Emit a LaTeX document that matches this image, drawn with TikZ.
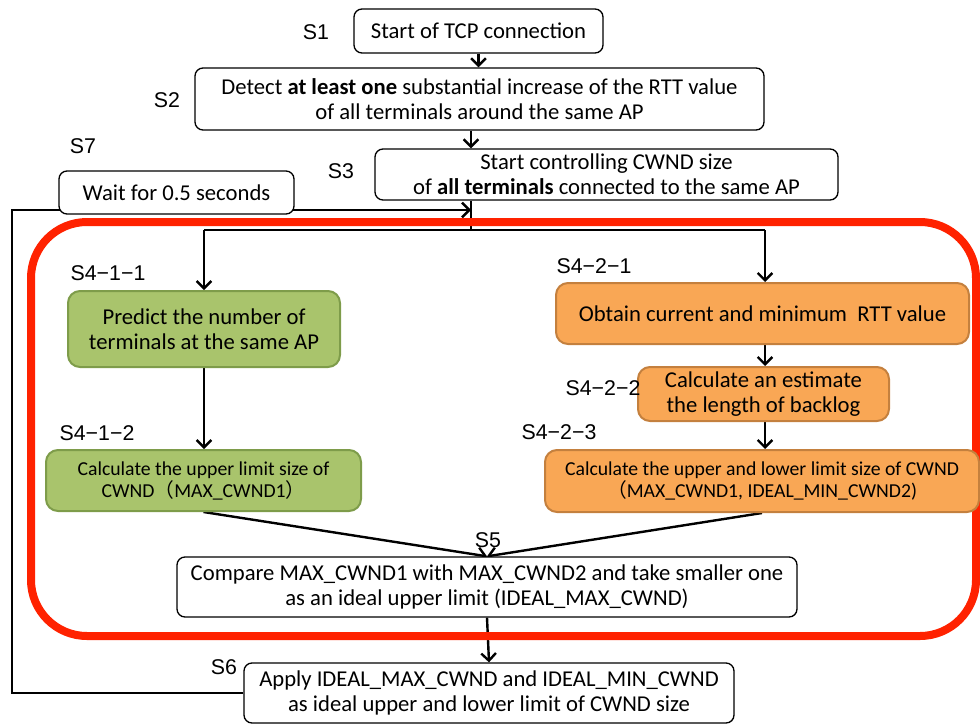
\documentclass[tikz,border=0pt]{standalone}
\usepackage{fontspec}
\setmainfont{Carlito}
\newfontfamily\lab{Liberation Sans}
\newfontfamily\cjk{Noto Sans CJK JP}
\usetikzlibrary{arrows.meta}
\definecolor{redline}{RGB}{255,34,0}
\definecolor{gfill}{RGB}{169,196,108}
\definecolor{gdraw}{RGB}{126,156,74}
\definecolor{ofill}{RGB}{249,167,85}
\definecolor{odraw}{RGB}{196,128,62}
\pgfdeclarelayer{lines}
\pgfdeclarelayer{frame}
\pgfsetlayers{lines,frame,main}
\begin{document}
\begin{tikzpicture}[x=0.75pt,y=-0.75pt,
  wbox/.style={draw=black, line width=1pt, fill=white, rounded corners=6pt, inner sep=0pt, align=center},
  gbox/.style={draw=gdraw, line width=1.5pt, fill=gfill, rounded corners=9pt, inner sep=0pt, align=center},
  obox/.style={draw=odraw, line width=1.5pt, fill=ofill, rounded corners=9pt, inner sep=0pt, align=center},
  big/.style={font=\fontsize{17}{18.75}\selectfont},
  small/.style={font=\fontsize{14.8}{16.5}\selectfont},
  steplab/.style={font=\lab\fontsize{16}{16}\selectfont, inner sep=0pt},
  conn/.style={line width=1.8pt},
  arr/.style={line width=1.8pt, -{Straight Barb[length=5.5pt,width=11pt]}}]
\useasboundingbox (0,0) rectangle (980,724);

% nodes
\node[wbox, big, minimum width=186.75pt, minimum height=33pt] (s1) at (478.5,31) {Start of TCP connection};
\node[wbox, big, minimum width=426.75pt, minimum height=46.5pt] (s2) at (479.5,99)
  {Detect \textbf{at least one} substantial increase of the RTT value\\of all terminals around the same AP};
\node[wbox, big, minimum width=347.25pt, minimum height=38.25pt] (s3) at (606.5,174.5)
  {Start controlling CWND size\\of \textbf{all terminals} connected to the same AP};
\node[wbox, big, minimum width=176.25pt, minimum height=32.25pt] (s7) at (176.5,192.5) {Wait for 0.5 seconds};

% connector coordinates
\coordinate (j3) at (471,230);
\coordinate (jL) at (204,230);
\coordinate (jR) at (765,230);
\coordinate (la) at (12,693);
\coordinate (lb) at (12,210);
\coordinate (lc) at (471,210);

\node[gbox, big, minimum width=204pt, minimum height=57pt] (s411) at (204,329)
  {Predict the number of\\terminals at the same AP};
\node[gbox, small, minimum width=236.25pt, minimum height=45.75pt] (s412) at (203.5,480.5)
  {Calculate the upper limit size of\\CWND{\cjk （}MAX\_CWND1{\cjk ）}};
\node[obox, big, minimum width=309.75pt, minimum height=45.75pt] (s421) at (762.5,313.5)
  {Obtain current and minimum\ \ RTT value};
\node[obox, big, minimum width=188.25pt, minimum height=40.5pt] (s422) at (763.5,394)
  {Calculate an estimate\\the length of backlog};
\node[obox, small, minimum width=325.5pt, minimum height=46.5pt] (s423) at (762,481)
  {Calculate the upper and lower limit size of CWND\\{\cjk （}MAX\_CWND1, IDEAL\_MIN\_CWND2)};
\node[wbox, big, minimum width=465pt, minimum height=45pt] (s5) at (487,587)
  {Compare MAX\_CWND1 with MAX\_CWND2 and take smaller one\\as an ideal upper limit (IDEAL\_MAX\_CWND)};
\node[wbox, big, minimum width=367.5pt, minimum height=45pt] (s6) at (489,693)
  {Apply IDEAL\_MAX\_CWND and IDEAL\_MIN\_CWND\\as ideal upper and lower limit of CWND size};

% step labels
\node[steplab] (l1) at (316,32) {S1};
\node[steplab] (l2) at (167,100) {S2};
\node[steplab] (l3) at (341,171) {S3};
\node[steplab] (l7) at (83,146) {S7};
\node[steplab] (l411) at (108,273) {S4−1−1};
\node[steplab] (l412) at (97,433) {S4−1−2};
\node[steplab] (l421) at (594,266) {S4−2−1};
\node[steplab] (l422) at (603,388) {S4−2−2};
\node[steplab] (l423) at (559,432) {S4−2−3};
\node[steplab] (l5) at (488,540) {S5};
\node[steplab] (l6) at (224,667) {S6};

% connectors
\begin{pgfonlayer}{lines}
\draw[arr] (s1.south) -- (s1.south |- s2.north);
\draw[arr] (s2.south -| j3) -- (s3.north -| j3);
\draw[conn] (s3.south -| j3) -- (j3);
\draw[conn] (jL) -- (jR);
\draw[arr] (jL) -- (s411.north);
\draw[arr] (jR) -- (s421.north -| jR);
\draw[arr] (s411.south) -- (s411.south |- s412.north);
\draw[arr] (s421.south -| jR) -- (s422.north -| jR);
\draw[arr] (s422.south -| jR) -- (s423.north -| jR);
\draw[arr] (s412.south) -- (s5.north);
\draw[arr] (s423.south) -- (s5.north);
\draw[arr] (s5.south) -- (s6.north);
\draw[arr] (s6.west) -- (s6.west -| la) -- (lb) -- (lc);
\end{pgfonlayer}

% red frame
\begin{pgfonlayer}{frame}
\draw[redline, line width=6pt, rounded corners=42pt] (31,222) rectangle (976,636);
\end{pgfonlayer}
\end{tikzpicture}
\end{document}
